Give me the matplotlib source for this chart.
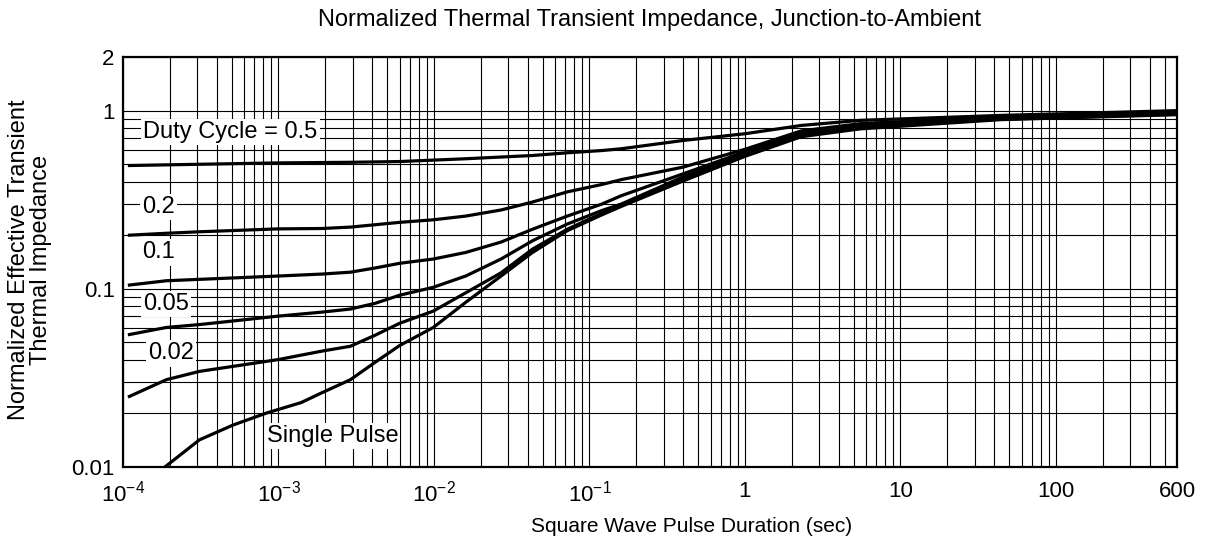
import matplotlib
matplotlib.use('Agg')
from matplotlib import pyplot as plt
from matplotlib.ticker import FixedLocator, NullFormatter

# Data (pulse duration in sec, normalized impedance)
t_d05 = [1.1e-4, 3.1e-4, 1e-3, 2.9e-3, 6e-3, 0.016, 0.043, 0.072, 0.12, 0.16, 0.4, 1.0, 2.3, 5.5, 44, 600]
z_d05 = [0.492, 0.50, 0.509, 0.513, 0.518, 0.537, 0.56, 0.58, 0.597, 0.611, 0.68, 0.742, 0.826, 0.882, 0.94, 1.0]

t_common = [1.1e-4, 1.9e-4, 3.1e-4, 1e-3, 1.9e-3, 2.9e-3, 4.2e-3, 6e-3, 0.0099, 0.016, 0.027, 0.043,
            0.072, 0.12, 0.16, 0.4, 1.0, 1.65, 2.3, 5.5, 44, 600]
z_d02 = [0.20, 0.205, 0.209, 0.217, 0.218, 0.222, 0.229, 0.236, 0.244, 0.256, 0.277, 0.307,
         0.35, 0.385, 0.41, 0.482, 0.607, 0.70, 0.77, 0.845, 0.925, 0.987]
z_d01 = [0.105, 0.111, 0.113, 0.118, 0.121, 0.124, 0.131, 0.139, 0.147, 0.16, 0.183, 0.216,
         0.256, 0.299, 0.333, 0.442, 0.588, 0.68, 0.75, 0.83, 0.913, 0.974]
z_d005 = [0.0554, 0.0607, 0.063, 0.0703, 0.074, 0.077, 0.083, 0.092, 0.102, 0.118, 0.147, 0.186,
          0.231, 0.275, 0.299, 0.425, 0.573, 0.665, 0.742, 0.82, 0.90, 0.962]
z_d002 = [0.0249, 0.0309, 0.0344, 0.0401, 0.0447, 0.0476, 0.055, 0.064, 0.075, 0.095, 0.123, 0.167,
          0.216, 0.265, 0.295, 0.414, 0.565, 0.655, 0.728, 0.81, 0.895, 0.955]

t_single = [1.86e-4, 3.1e-4, 5.1e-4, 8.4e-4, 1.4e-3, 1.9e-3, 2.9e-3, 4.2e-3, 6e-3, 0.0099, 0.016,
            0.027, 0.043, 0.072, 0.12, 0.16, 0.4, 1.0, 1.65, 2.3, 5.5, 44, 600]
z_single = [0.01, 0.0142, 0.0172, 0.0201, 0.023, 0.0261, 0.0309, 0.0388, 0.048, 0.0607, 0.084,
            0.118, 0.16, 0.212, 0.26, 0.29, 0.403, 0.554, 0.645, 0.714, 0.79, 0.89, 0.949]

x_ticks = [1e-4, 1e-3, 1e-2, 1e-1, 1, 10, 100, 600]
x_tick_labels = ['$10^{-4}$', '$10^{-3}$', '$10^{-2}$', '$10^{-1}$', '1', '10', '100', '600']
y_ticks = [0.01, 0.1, 1, 2]
y_tick_labels = ['0.01', '0.1', '1', '2']

plt.rcParams['font.family'] = ['Liberation Sans', 'DejaVu Sans']
plt.rcParams['mathtext.default'] = 'regular'

fig = plt.figure(figsize=(12.11, 5.48), dpi=100)
ax = fig.add_axes([123 / 1211, 1 - 467 / 548, 1054 / 1211, 410 / 548])
ax.set_xscale('log')
ax.set_yscale('log')
ax.set_xlim(1e-4, 600)
ax.set_ylim(0.01, 2)

# Grid: every minor decade step in x, only up to 1 in y
x_minor = [m * 10.0 ** e for e in range(-4, 3) for m in range(2, 10) if m * 10.0 ** e < 600]
y_minor = [m * 10.0 ** e for e in (-2, -1) for m in range(2, 10)]
ax.xaxis.set_major_locator(FixedLocator(x_ticks))
ax.xaxis.set_minor_locator(FixedLocator(x_minor))
ax.yaxis.set_major_locator(FixedLocator(y_ticks))
ax.yaxis.set_minor_locator(FixedLocator(y_minor))
ax.set_xticklabels(x_tick_labels)
ax.set_yticklabels(y_tick_labels)
ax.xaxis.set_minor_formatter(NullFormatter())
ax.yaxis.set_minor_formatter(NullFormatter())
ax.tick_params(which='both', length=0)
ax.tick_params(axis='x', pad=10, labelsize=16)
ax.tick_params(axis='y', pad=6, labelsize=16)
ax.grid(which='both', color='black', linewidth=0.8)
ax.set_axisbelow(True)
for s in ax.spines.values():
    s.set_linewidth(1.6)

# Curves
lw = 2.3
for t, z in [(t_d05, z_d05), (t_common, z_d02), (t_common, z_d01),
             (t_common, z_d005), (t_common, z_d002), (t_single, z_single)]:
    ax.plot(t, z, color='black', lw=lw, zorder=4, solid_joinstyle='round')

# Curve labels
box = dict(facecolor='white', edgecolor='none', pad=1.5)
fs = 17
ax.text(1.35e-4, 0.76, 'Duty Cycle = 0.5', fontsize=fs, va='center', bbox=box, zorder=3)
ax.text(1.32e-4, 0.288, '0.2', fontsize=fs, va='center', bbox=box, zorder=3)
ax.text(1.32e-4, 0.16, '0.1', fontsize=fs, va='center', bbox=box, zorder=3)
ax.text(1.35e-4, 0.082, '0.05', fontsize=fs, va='center', bbox=box, zorder=3)
ax.text(1.45e-4, 0.0434, '0.02', fontsize=fs, va='center', bbox=box, zorder=3)
ax.text(8.4e-4, 0.0149, 'Single Pulse', fontsize=fs, va='center', bbox=box, zorder=3)

fig.text(0.5367, 1 - 20 / 548, 'Normalized Thermal Transient Impedance, Junction-to-Ambient',
         ha='center', va='center', fontsize=17)
fig.text(692 / 1211, 1 - 527 / 548, 'Square Wave Pulse Duration (sec)',
         ha='center', va='center', fontsize=15)
fig.text(30 / 1211, 1 - 260 / 548, 'Normalized Effective Transient\nThermal Impedance',
         ha='center', va='center', rotation=90, fontsize=17, linespacing=1.05)

fig.savefig('out.png', dpi=100)
